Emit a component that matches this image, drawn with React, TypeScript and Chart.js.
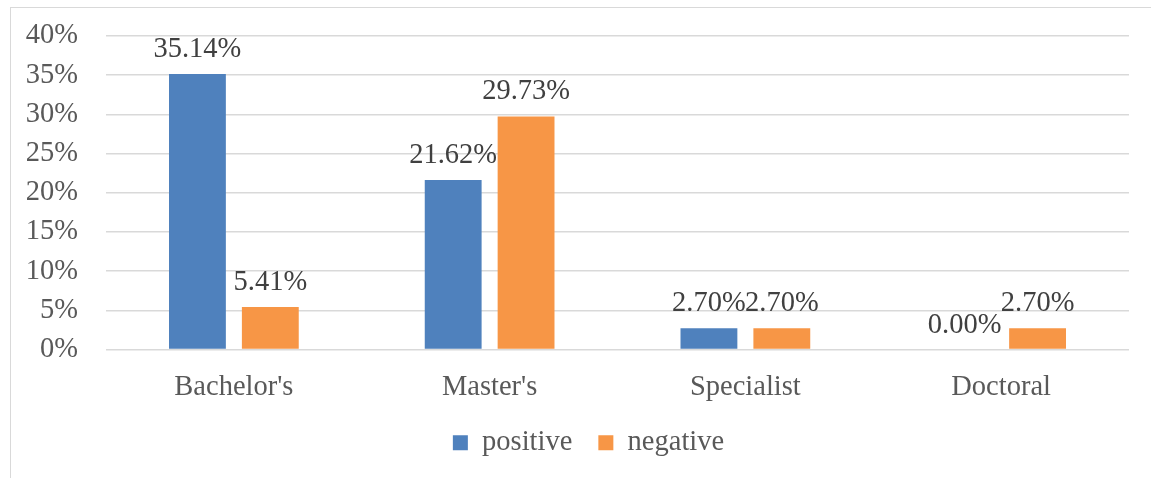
import React, { useEffect, useRef } from "react";
import { Chart, registerables } from "chart.js";

Chart.register(...registerables);

const categories = ["Bachelor's", "Master's", "Specialist", "Doctoral"];
const positiveValues = [35.14, 21.62, 2.7, 0.0];
const negativeValues = [5.41, 29.73, 2.7, 2.7];
const seriesNames = ["positive", "negative"];
const yTicks = [0, 5, 10, 15, 20, 25, 30, 35, 40];

const FONT = "'Liberation Serif', 'Times New Roman', serif";
const FS = 28.5;

const dataLabels = {
  id: "dataLabels",
  afterDatasetsDraw(chart: any) {
    const ctx = chart.ctx;
    ctx.save();
    ctx.font = `${FS}px ${FONT}`;
    ctx.fillStyle = "#404040";
    ctx.textAlign = "center";
    ctx.textBaseline = "alphabetic";
    chart.data.datasets.forEach((ds: any, i: number) => {
      const meta = chart.getDatasetMeta(i);
      meta.data.forEach((el: any, j: number) => {
        const v = ds.data[j] as number;
        ctx.fillText(v.toFixed(2) + "%", el.x, el.y - 17);
      });
    });
    ctx.restore();
  },
};

const legendShift = {
  id: "legendShift",
  afterLayout(chart: any) {
    const lg = chart.legend;
    if (lg) {
      lg.left += 24;
      lg.right += 24;
    }
  },
};

export default function App() {
  const ref = useRef<HTMLCanvasElement>(null);
  useEffect(() => {
    if (!ref.current) return;
    const chart = new Chart(ref.current, {
      type: "bar",
      data: {
        labels: categories,
        datasets: [
          {
            label: seriesNames[0],
            data: positiveValues,
            backgroundColor: "#4F81BD",
            categoryPercentage: 0.57,
            barPercentage: 0.78,
          },
          {
            label: seriesNames[1],
            data: negativeValues,
            backgroundColor: "#F79646",
            categoryPercentage: 0.57,
            barPercentage: 0.78,
          },
        ],
      },
      options: {
        responsive: false,
        animation: false,
        devicePixelRatio: 1,
        layout: { padding: { left: 0, right: 22, top: 36, bottom: 11 } },
        plugins: {
          tooltip: { enabled: false },
          legend: {
            position: "bottom",
            labels: {
              boxWidth: 15,
              boxHeight: 15,
              padding: 26,
              color: "#595959",
              font: { size: FS, family: FONT },
            },
          },
        },
        scales: {
          x: {
            grid: { display: false },
            border: { display: false },
            ticks: {
              color: "#595959",
              font: { size: FS, family: FONT },
              padding: 13,
              maxRotation: 0,
            },
            afterFit: (s: any) => {
              s.height = 53;
            },
          },
          y: {
            min: 0,
            max: 40,
            afterBuildTicks: (s: any) => {
              s.ticks = yTicks.map((v) => ({ value: v }));
            },
            grid: { color: "#d9d9d9", lineWidth: 1.5, drawTicks: false },
            border: { display: false },
            ticks: {
              color: "#595959",
              font: { size: FS, family: FONT, lineHeight: 0.5 },
              padding: 28,
              callback: (v: any) => v + "%",
            },
            afterFit: (s: any) => {
              s.width = 106;
            },
          },
        },
      },
      plugins: [dataLabels, legendShift],
    });
    return () => chart.destroy();
  }, []);
  return (
    <div style={{ position: "fixed", left: 0, top: 0, width: 1151, height: 478, overflow: "hidden", background: "#fff" }}>
      <div
        style={{
          position: "absolute",
          left: 10,
          top: 7,
          width: 1300,
          height: 600,
          border: "1px solid #d9d9d9",
        }}
      />
      <canvas ref={ref} width={1151} height={478} style={{ position: "absolute", left: 0, top: 0 }} />
    </div>
  );
}
